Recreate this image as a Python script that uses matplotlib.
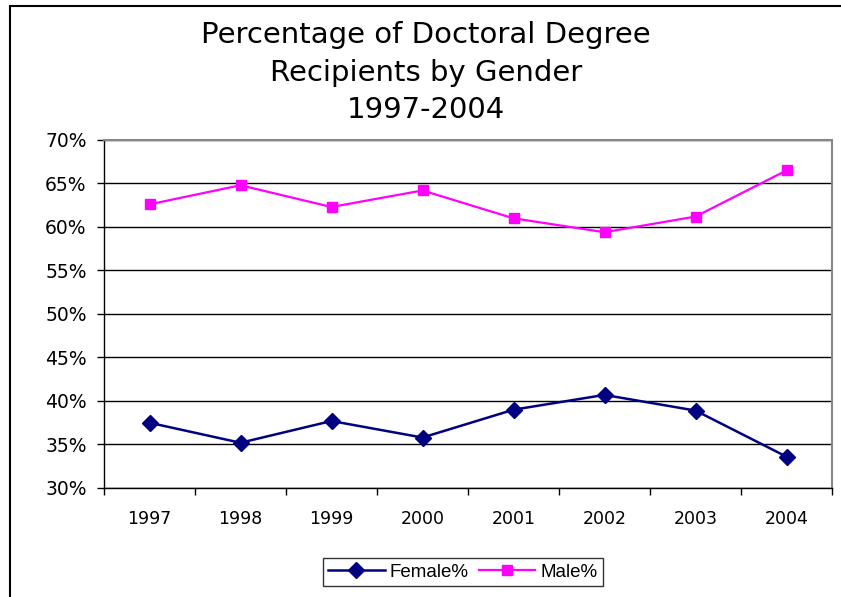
import numpy as np
import matplotlib.pyplot as plt
from matplotlib.patches import Rectangle
from matplotlib.ticker import FixedLocator

years = ['1997', '1998', '1999', '2000', '2001', '2002', '2003', '2004']
female = [37.5, 35.2, 37.7, 35.8, 39.0, 40.7, 38.9, 33.6]
male = [62.6, 64.8, 62.3, 64.2, 61.0, 59.4, 61.2, 66.5]
yticks = [30, 35, 40, 45, 50, 55, 60, 65, 70]

fig = plt.figure(figsize=(8.41, 5.97), dpi=100)
ax = fig.add_axes([104/841, 1 - 488/597, (832 - 104)/841, (488 - 140)/597])

x = np.arange(len(years))
ax.plot(x, female, color='#000080', lw=1.8, marker='D', ms=8.5, label='Female%')
ax.plot(x, male, color='#FF00FF', lw=1.6, marker='s', ms=7.5, label='Male%')

ax.set_xlim(-0.5, len(years) - 0.5)
ax.set_ylim(30, 70)
ax.set_yticks(yticks)
ax.set_yticklabels([f'{v}%' for v in yticks], fontsize=13.5, family='DejaVu Sans')
ax.set_xticks(x)
ax.set_xticklabels(years, fontsize=12.5, family='DejaVu Sans')
ax.xaxis.set_minor_locator(FixedLocator(np.arange(-0.5, len(years), 1)))
ax.tick_params(axis='x', which='major', length=0, pad=16)
ax.tick_params(axis='x', which='minor', length=5, width=1, direction='out')
ax.tick_params(axis='y', length=5, width=1, direction='out', pad=7.5)

ax.grid(axis='y', color='black', lw=1)
ax.set_axisbelow(True)
for s in ['top', 'right']:
    ax.spines[s].set_color('#888888')
    ax.spines[s].set_linewidth(1.5)
for s in ['left', 'bottom']:
    ax.spines[s].set_color('black')
    ax.spines[s].set_linewidth(1)

fig.text(426/841, 1 - 35/597, 'Percentage of Doctoral Degree', ha='center', va='center', fontsize=21)
fig.text(426/841, 1 - 73/597, 'Recipients by Gender', ha='center', va='center', fontsize=21)
fig.text(426/841, 1 - 110/597, '1997-2004', ha='center', va='center', fontsize=21)

leg = fig.legend(loc='center', bbox_to_anchor=(463/841, 1 - 572/597), ncol=2,
                 prop={'family': 'Liberation Sans', 'size': 13.5}, frameon=True,
                 fancybox=False, edgecolor='black', handlelength=3.0,
                 columnspacing=0.55, handletextpad=0.28, borderpad=0.3)
leg.get_frame().set_linewidth(1)

# outer chart frame
fig.patches.append(Rectangle((10/841, -0.1), 1.0, 1.1 - 6/597, transform=fig.transFigure,
                             fill=False, edgecolor='black', lw=1.5))

fig.savefig('out.png', dpi=100)
